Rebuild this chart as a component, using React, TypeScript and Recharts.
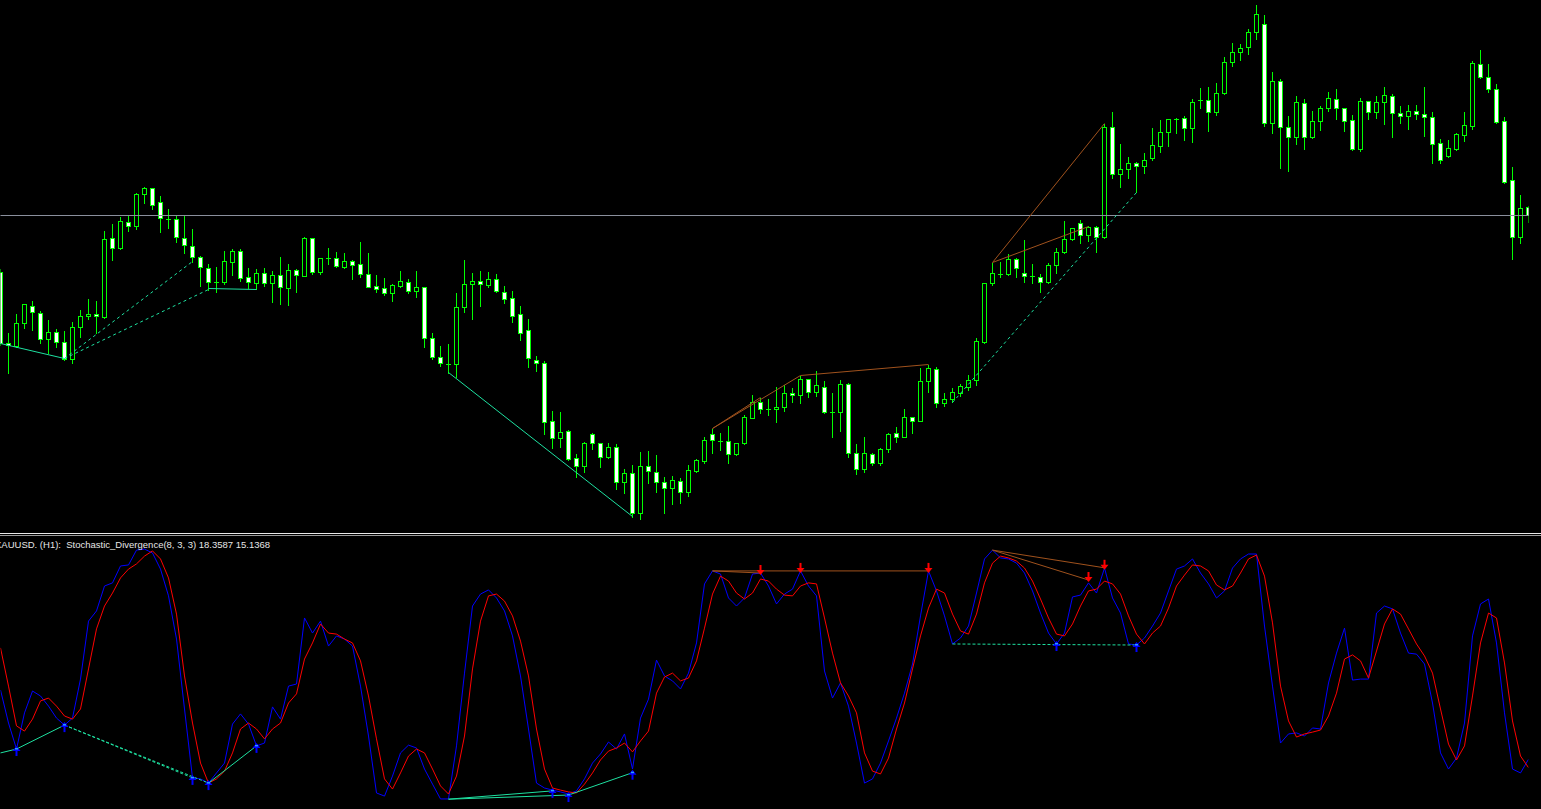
import { ComposedChart, LineChart, Line, Bar, XAxis, YAxis, ReferenceLine, ReferenceDot } from 'recharts';

// XAUUSD H1 candles as [open, high, low, close], price in chart points
const candles: [number, number, number, number][] = [
  [268, 272, 195, 197], [197, 208, 167, 195], [194, 227, 193, 217], [217, 237, 212, 236], [234, 240, 210, 228], [227, 230, 197, 201], [201, 221, 187, 208], [208, 212, 193, 198],
  [198, 210, 180, 181], [181, 219, 177, 213], [213, 231, 203, 224], [224, 242, 221, 226], [226, 240, 207, 224], [223, 310, 222, 301], [302, 317, 280, 292], [292, 324, 291, 319],
  [318, 326, 309, 314], [314, 348, 311, 346], [346, 354, 337, 352], [352, 353, 331, 335], [338, 345, 308, 322], [321, 332, 312, 321], [321, 325, 298, 303], [302, 326, 287, 295],
  [294, 312, 278, 283], [283, 285, 254, 273], [272, 277, 250, 258], [258, 274, 248, 258], [258, 290, 256, 279], [278, 292, 265, 289], [289, 292, 259, 262], [263, 273, 252, 258],
  [257, 272, 251, 267], [267, 273, 254, 257], [257, 270, 238, 265], [265, 284, 236, 253], [252, 277, 235, 270], [270, 272, 248, 265], [264, 304, 264, 302], [302, 303, 266, 268],
  [268, 283, 266, 282], [282, 293, 276, 282], [282, 289, 273, 274], [273, 288, 272, 279], [279, 281, 261, 275], [276, 299, 263, 266], [266, 288, 253, 253], [254, 266, 248, 251],
  [252, 263, 245, 247], [247, 257, 239, 255], [254, 270, 253, 259], [258, 262, 247, 249], [249, 270, 243, 253], [253, 254, 193, 202], [202, 208, 181, 183], [183, 195, 174, 177],
  [176, 197, 167, 176], [176, 248, 163, 233], [233, 281, 228, 256], [256, 268, 221, 259], [259, 270, 234, 256], [255, 269, 253, 261], [261, 267, 248, 249], [248, 255, 237, 241],
  [242, 250, 218, 224], [226, 235, 200, 207], [210, 222, 173, 182], [180, 185, 169, 177], [177, 180, 106, 118], [119, 130, 92, 102], [102, 129, 93, 108], [109, 111, 80, 81],
  [82, 87, 63, 74], [74, 99, 68, 97], [106, 108, 91, 97], [97, 98, 73, 83], [83, 98, 82, 93], [93, 97, 51, 58], [58, 72, 47, 67], [67, 76, 23, 27],
  [27, 89, 21, 74], [74, 90, 57, 69], [68, 86, 48, 58], [58, 64, 27, 52], [52, 65, 36, 60], [59, 63, 37, 48], [48, 76, 44, 70], [69, 82, 68, 80],
  [79, 104, 77, 100], [106, 112, 87, 100], [99, 108, 90, 99], [99, 115, 77, 86], [86, 98, 85, 97], [97, 126, 96, 123], [122, 146, 122, 138], [138, 143, 127, 131],
  [131, 142, 125, 131], [131, 154, 118, 133], [133, 156, 129, 147], [147, 153, 138, 145], [145, 165, 137, 161], [161, 162, 143, 148], [148, 170, 144, 155], [153, 160, 127, 128],
  [128, 148, 103, 128], [128, 161, 109, 156], [156, 158, 83, 87], [87, 97, 66, 71], [71, 104, 68, 87], [86, 88, 75, 77], [77, 93, 75, 91], [91, 108, 88, 106],
  [107, 114, 98, 103], [103, 132, 103, 123], [123, 124, 107, 119], [119, 173, 119, 159], [159, 176, 148, 172], [171, 174, 133, 137], [137, 148, 134, 141], [141, 153, 138, 148],
  [147, 157, 144, 154], [153, 166, 150, 160], [160, 203, 155, 199], [198, 257, 197, 257], [257, 278, 255, 267], [266, 279, 263, 266], [266, 287, 265, 281], [281, 283, 263, 272],
  [267, 301, 258, 264], [264, 277, 257, 264], [263, 267, 248, 258], [258, 278, 257, 275], [275, 293, 267, 288], [288, 320, 287, 301], [301, 313, 300, 312], [317, 321, 297, 305],
  [305, 315, 299, 313], [313, 315, 288, 303], [303, 417, 302, 413], [413, 429, 362, 366], [366, 397, 353, 371], [371, 384, 362, 377], [377, 379, 348, 374], [374, 388, 367, 380],
  [382, 413, 380, 395], [394, 421, 388, 408], [408, 422, 394, 421], [421, 423, 407, 421], [422, 425, 400, 412], [412, 442, 398, 438], [440, 453, 432, 440], [440, 454, 409, 428],
  [428, 458, 425, 447], [447, 484, 446, 478], [478, 498, 474, 488], [488, 497, 480, 492], [493, 512, 486, 508], [508, 536, 501, 526], [516, 526, 414, 417], [417, 469, 407, 459],
  [459, 462, 372, 413], [413, 425, 369, 403], [403, 445, 396, 438], [437, 442, 391, 403], [403, 430, 402, 419], [419, 435, 410, 432], [432, 449, 429, 442], [441, 452, 421, 432],
  [432, 432, 409, 419], [420, 426, 390, 391], [391, 443, 389, 439], [439, 440, 421, 428], [428, 445, 422, 438], [438, 454, 416, 445], [444, 447, 403, 427], [427, 435, 417, 424],
  [424, 436, 411, 429], [429, 436, 421, 426], [426, 454, 404, 423], [423, 429, 377, 396], [397, 402, 377, 380], [384, 401, 383, 392], [391, 408, 390, 406], [405, 429, 399, 415],
  [414, 480, 411, 477], [476, 491, 462, 463], [463, 477, 448, 451], [451, 457, 417, 418], [419, 424, 357, 358], [360, 374, 281, 303], [303, 346, 297, 332], [333, 335, 318, 325],
];

const bidPrice = 325;

// stochastic %K (blue) and %D (red)
const stochMain = [
  45.0, 32.3, 22.3, 36.2, 44.6, 42.7, 38.8, 34.2, 31.5, 34.2, 49.2, 71.5, 75.4, 85.0, 86.2, 92.7,
  93.1, 98.8, 99.2, 97.7, 91.5, 81.2, 64.6, 37.7, 11.2, 10.8, 9.2, 13.1, 16.9, 31.9, 35.8, 31.9,
  23.5, 24.6, 38.5, 33.8, 46.5, 47.3, 72.7, 66.9, 71.5, 61.9, 65.8, 64.6, 61.9, 46.5, 27.3, 5.4,
  4.2, 11.9, 20.8, 23.8, 22.7, 14.6, 8.8, 3.1, 3.1, 23.5, 51.5, 77.3, 81.9, 83.5, 80.4, 75.4,
  65.8, 50.4, 30.0, 9.2, 7.3, 6.5, 5.8, 5.0, 6.2, 10.8, 16.9, 20.4, 25.0, 22.3, 28.1, 14.6,
  34.2, 41.5, 56.5, 50.4, 48.5, 45.4, 51.5, 63.1, 85.8, 90.8, 89.6, 80.4, 77.3, 80.4, 89.6, 90.0,
  85.0, 78.1, 81.9, 83.8, 90.8, 85.0, 81.2, 52.3, 41.9, 47.7, 38.8, 24.6, 9.2, 10.8, 16.9, 25.4,
  34.2, 43.8, 55.0, 73.5, 90.8, 83.1, 73.5, 62.7, 65.0, 69.6, 82.3, 95.4, 98.8, 95.8, 95.4, 93.8,
  90.0, 83.1, 74.6, 66.9, 62.7, 66.9, 80.8, 81.5, 86.2, 82.3, 91.9, 80.4, 74.6, 62.7, 62.3, 65.0,
  69.6, 74.6, 83.1, 91.5, 92.7, 95.4, 90.0, 85.8, 80.4, 83.1, 91.9, 95.4, 97.3, 97.3, 69.6, 46.5,
  24.6, 28.1, 28.5, 27.3, 30.4, 30.0, 47.7, 59.2, 68.8, 48.8, 49.2, 49.2, 74.6, 77.3, 76.2, 66.9,
  59.2, 58.8, 55.0, 40.0, 20.8, 14.6, 18.8, 32.3, 65.8, 78.1, 80.0, 63.1, 36.2, 14.6, 13.1, 18.3587,
];

const stochSignal = [
  61.2, 46.5, 31.2, 29.2, 33.8, 40.8, 41.9, 38.8, 35.0, 33.8, 37.7, 53.1, 68.5, 77.3, 82.3, 88.1,
  91.5, 93.5, 96.5, 98.5, 95.4, 88.1, 74.2, 50.4, 32.3, 16.9, 9.2, 10.8, 13.8, 20.8, 30.0, 32.3,
  30.0, 26.2, 30.0, 32.3, 40.0, 43.5, 56.9, 63.1, 70.4, 66.9, 66.5, 64.6, 63.1, 56.2, 42.7, 26.2,
  10.8, 6.9, 13.1, 19.6, 22.3, 20.8, 14.6, 8.1, 5.0, 11.9, 27.3, 53.1, 71.5, 81.2, 81.9, 79.2,
  73.5, 63.8, 50.4, 30.0, 14.6, 7.3, 6.5, 5.8, 5.4, 8.8, 13.1, 18.1, 21.5, 22.7, 24.6, 21.2,
  25.4, 29.2, 43.8, 50.0, 51.5, 48.5, 49.6, 56.2, 68.8, 81.9, 88.8, 86.9, 82.3, 80.0, 82.3, 87.7,
  86.9, 83.8, 81.5, 81.2, 85.0, 86.2, 85.8, 72.7, 59.2, 47.7, 42.7, 36.2, 20.8, 13.8, 12.7, 18.8,
  30.0, 40.0, 53.1, 65.8, 76.5, 83.8, 82.3, 74.2, 67.7, 66.5, 74.2, 86.2, 93.8, 96.5, 95.8, 94.6,
  91.9, 86.9, 80.0, 72.7, 66.5, 65.8, 70.4, 77.3, 83.1, 83.8, 86.9, 85.8, 81.9, 73.5, 66.5, 62.7,
  66.9, 69.6, 76.5, 85.0, 89.2, 93.1, 92.7, 90.8, 85.4, 83.5, 85.0, 90.0, 95.4, 96.9, 88.8, 70.8,
  46.5, 33.1, 26.9, 28.1, 28.8, 29.6, 35.0, 43.8, 56.9, 58.5, 56.2, 49.6, 60.0, 70.4, 76.2, 74.2,
  68.5, 62.7, 58.1, 51.5, 37.7, 24.2, 18.1, 23.5, 42.7, 63.1, 74.6, 72.7, 55.4, 33.1, 19.6, 15.1368,
];

// divergence lines: [barFrom, valueFrom, barTo, valueTo]
type Seg = [number, number, number, number];
const priceBullSolid: Seg[] = [[0, 197, 8, 182], [26, 252, 32, 251], [56, 168, 79, 24]];
const priceBullDashed: Seg[] = [[8, 182, 24, 279], [8, 182, 26, 251], [119, 138, 142, 348]];
const priceBear: Seg[] = [[89, 112, 95, 143], [89, 112, 100, 165], [100, 165, 116, 176], [124, 278, 138, 417], [124, 278, 136, 314]];

const stochBullSolid: Seg[] = [[0, 20.8, 2, 22.3], [2, 22.3, 8, 31.5], [26, 9.2, 32, 23.5], [56, 3.0, 69, 6.2], [56, 3.0, 71, 4.6], [71, 4.6, 79, 13.2]];
const stochBullDashed: Seg[] = [[8, 31.5, 24, 11.2], [8, 31.5, 26, 9.2], [119, 62.7, 142, 62.3]];
const stochBear: Seg[] = [[89, 90.8, 95, 90.0], [89, 90.8, 100, 90.8], [100, 90.8, 116, 90.8], [124, 98.8, 138, 92.0], [124, 98.8, 136, 87.3]];

// signal arrows [bar, value]
const upArrows: [number, number][] = [[2, 22.3], [8, 31.5], [24, 11.2], [26, 9.2], [32, 23.5], [69, 6.2], [71, 4.6], [79, 13.2], [132, 62.7], [142, 62.3]];
const downArrows: [number, number][] = [[95, 90.0], [100, 90.8], [116, 90.8], [136, 87.3], [138, 92.0]];

const GREEN = '#00ff00';
const BULL_LINE = '#1ee0a0';
const BEAR_LINE = '#a0521d';

const priceData = candles.map(([o, h, l, c], i) => ({ i, o, h, l, c, range: [l, h] }));
const stochData = stochMain.map((m, i) => ({ i, main: m, signal: stochSignal[i] }));

function Candle(props: any) {
  const { x, y, width, height, payload } = props;
  const { o, h, l, c } = payload;
  const cx = x + width / 2;
  const k = h === l ? 0 : height / (h - l);
  const py = (v: number) => y + (h - v) * k;
  const top = py(Math.max(o, c));
  const bot = py(Math.min(o, c));
  return (
    <g shapeRendering="crispEdges">
      <line x1={cx} x2={cx} y1={y} y2={y + height} stroke={GREEN} />
      {o === c ? (
        <line x1={cx - 2.5} x2={cx + 2.5} y1={top} y2={top} stroke={GREEN} />
      ) : (
        <rect x={cx - 2} y={top} width={4} height={bot - top} fill={c < o ? '#ffffff' : '#000000'} stroke={GREEN} />
      )}
    </g>
  );
}

function UpArrow({ cx, cy }: any) {
  return (
    <g>
      <rect x={cx - 1} y={cy + 1} width={2} height={6} fill="#0000ff" />
      <path d={`M${cx - 4},${cy + 2} L${cx},${cy - 3} L${cx + 4},${cy + 2} Z`} fill="#0000ff" />
      <rect x={cx - 1.5} y={cy - 1} width={3} height={1.5} fill="#2aa0ff" />
    </g>
  );
}

function DownArrow({ cx, cy }: any) {
  return (
    <g>
      <rect x={cx - 1} y={cy - 8} width={2} height={6} fill="#ff0000" />
      <path d={`M${cx - 4},${cy - 3} L${cx},${cy + 2} L${cx + 4},${cy - 3} Z`} fill="#ff0000" />
    </g>
  );
}

const segLine = (s: Seg, key: string, color: string, dash?: string) => (
  <ReferenceLine
    key={key}
    segment={[{ x: s[0], y: s[1] }, { x: s[2], y: s[3] }]}
    stroke={color}
    strokeWidth={1}
    strokeDasharray={dash}
    ifOverflow="visible"
  />
);

export default function App() {
  const plotMargin = { left: 0.5, right: 12.5 };
  return (
    <div style={{ position: 'absolute', left: 0, top: 0, width: 1541, height: 809, background: '#000', overflow: 'hidden' }}>
      <div style={{ position: 'absolute', left: 0, top: 0 }}>
        <ComposedChart width={1541} height={533} data={priceData} margin={{ top: 0.5, bottom: 0.5, ...plotMargin }}>
          <XAxis type="number" dataKey="i" domain={[0, 191]} hide allowDataOverflow />
          <YAxis type="number" domain={[8, 540]} hide allowDataOverflow />
          <ReferenceLine y={bidPrice} stroke="#8a8f9c" strokeWidth={1} />
          <Bar dataKey="range" barSize={5} isAnimationActive={false} shape={(p: any) => <Candle {...p} />} />
          {priceBullSolid.map((s, k) => segLine(s, `pbs${k}`, BULL_LINE))}
          {priceBullDashed.map((s, k) => segLine(s, `pbd${k}`, BULL_LINE, '3 3'))}
          {priceBear.map((s, k) => segLine(s, `pbr${k}`, BEAR_LINE))}
        </ComposedChart>
      </div>
      <div style={{ position: 'absolute', left: 0, top: 533, width: 1541, height: 1, background: '#e8e8e8' }} />
      <div style={{ position: 'absolute', left: 0, top: 535, width: 1541, height: 1, background: '#9a9a9a' }} />
      <div style={{ position: 'absolute', left: 0, top: 536 }}>
        <LineChart width={1541} height={273} data={stochData} margin={{ top: 11, bottom: 2, ...plotMargin }}>
          <XAxis type="number" dataKey="i" domain={[0, 191]} hide allowDataOverflow />
          <YAxis type="number" domain={[0, 100]} hide allowDataOverflow />
          <Line type="linear" dataKey="main" stroke="#0000ff" strokeWidth={1} dot={false} isAnimationActive={false} />
          <Line type="linear" dataKey="signal" stroke="#ff0000" strokeWidth={1} dot={false} isAnimationActive={false} />
          {stochBullSolid.map((s, k) => segLine(s, `sbs${k}`, BULL_LINE))}
          {stochBullDashed.map((s, k) => segLine(s, `sbd${k}`, BULL_LINE, '3 2'))}
          {stochBear.map((s, k) => segLine(s, `sbr${k}`, BEAR_LINE))}
          {upArrows.map(([i, v], k) => (
            <ReferenceDot key={`ua${k}`} x={i} y={v} ifOverflow="visible" shape={(p: any) => <UpArrow cx={p.cx} cy={p.cy} />} />
          ))}
          {downArrows.map(([i, v], k) => (
            <ReferenceDot key={`da${k}`} x={i} y={v} ifOverflow="visible" shape={(p: any) => <DownArrow cx={p.cx} cy={p.cy} />} />
          ))}
        </LineChart>
      </div>
      <div
        style={{
          position: 'absolute',
          left: -5,
          top: 539,
          color: '#e6e6e6',
          fontFamily: '"Liberation Sans", Arial, sans-serif',
          fontSize: 9.5,
          lineHeight: '11px',
          whiteSpace: 'pre',
        }}
      >
        {'XAUUSD. (H1):  Stochastic_Divergence(8, 3, 3) 18.3587 15.1368'}
      </div>
    </div>
  );
}
